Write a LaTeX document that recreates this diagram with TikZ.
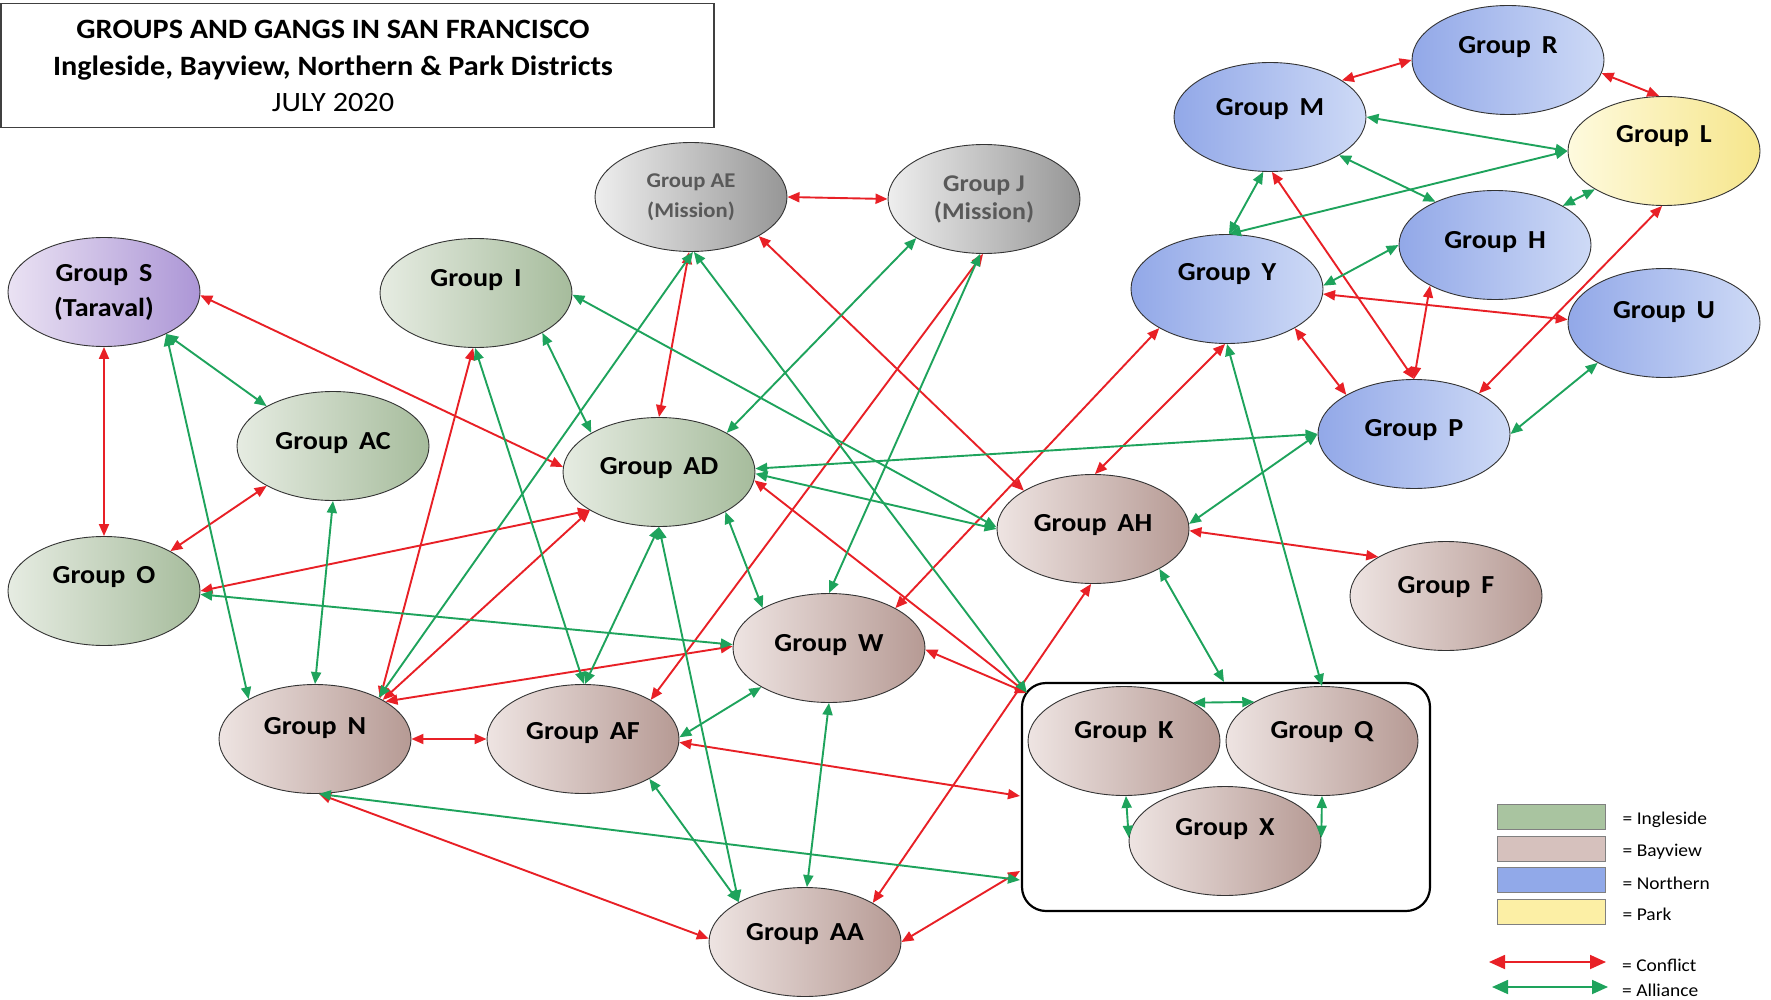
\documentclass[tikz,border=0pt]{standalone}
\usepackage{fontspec}
\setmainfont{Carlito}[FakeStretch=1.08]
\usetikzlibrary{shapes.geometric, arrows.meta, positioning}

\definecolor{conflictred}{RGB}{232,32,38}
\definecolor{alliancegreen}{RGB}{30,163,92}
\definecolor{ingL}{RGB}{230,236,226}
\definecolor{ingR}{RGB}{166,188,156}
\definecolor{bayL}{RGB}{238,228,226}
\definecolor{bayR}{RGB}{182,154,148}
\definecolor{norL}{RGB}{146,168,232}
\definecolor{norR}{RGB}{206,218,246}
\definecolor{parkL}{RGB}{254,250,222}
\definecolor{parkR}{RGB}{246,230,140}
\definecolor{tarL}{RGB}{234,226,243}
\definecolor{tarR}{RGB}{172,150,214}
\definecolor{misL}{RGB}{238,238,238}
\definecolor{misR}{RGB}{150,150,150}
\definecolor{legI}{RGB}{169,196,160}
\definecolor{legB}{RGB}{214,193,189}
\definecolor{legN}{RGB}{145,169,233}
\definecolor{legP}{RGB}{252,239,165}

\newcommand{\grpgap}{\hspace{0.42em}}

\begin{document}
\begin{tikzpicture}[x=1pt, y=-1pt, >={Triangle[length=12pt, width=10pt]}]
	\tikzstyle{gang}     = [ellipse, draw=black!80, line width=0.9pt, inner sep=0pt, minimum width=192pt, minimum height=109pt, font=\fontsize{26}{30}\selectfont\bfseries]
	\tikzstyle{oneline}  = [text height=12pt, text depth=12pt]
	\tikzstyle{grpI}     = [gang, oneline, left color=ingL, right color=ingR]
	\tikzstyle{grpB}     = [gang, oneline, left color=bayL, right color=bayR]
	\tikzstyle{grpN}     = [gang, oneline, left color=norL, right color=norR]
	\tikzstyle{grpP}     = [gang, oneline, left color=parkL, right color=parkR]
	\tikzstyle{grpT}     = [gang, align=center, font=\fontsize{26}{35}\selectfont\bfseries, left color=tarL, right color=tarR]
	\tikzstyle{grpM}     = [gang, align=center, text=black!65, left color=misL, right color=misR]
	\tikzstyle{conflict} = [<->, conflictred, line width=1.9pt]
	\tikzstyle{alliance} = [<->, alliancegreen, line width=1.9pt]
	\tikzstyle{ttl}      = [anchor=base, inner sep=0pt, font=\fontsize{28}{32}\selectfont\bfseries]
	\tikzstyle{legbox}   = [draw=black!50, line width=1pt, minimum width=108pt, minimum height=25pt, inner sep=0pt]
	\tikzstyle{legtxt}   = [anchor=west, inner sep=0pt, yshift=-3pt, font=\fontsize{18}{20}\selectfont]
	\tikzstyle{legarrow} = [line width=1.8pt, {Triangle[length=16pt, width=14pt]}-{Triangle[length=16pt, width=14pt]}]

	\path[use as bounding box, fill=white] (0,0) rectangle (1771,1000);

	% title
	\node[draw=black!75, line width=1.3pt, minimum width=713pt, minimum height=124pt, inner sep=0pt] (titlebox) at (357.5,65.5) {};
	\node[ttl] (ttl1) at (333,39) {GROUPS AND GANGS IN SAN FRANCISCO};
	\node[ttl] (ttl2) at (333,76) {Ingleside, Bayview, Northern \& Park Districts};
	\node[ttl, font=\fontsize{28}{32}\selectfont] (ttl3) at (333,112) {JULY 2020};

	% box round K, Q, X
	\node[draw=black, line width=2.2pt, rounded corners=24pt, minimum width=408pt, minimum height=228pt] (kqx) at (1226,797) {};
	\coordinate (kqxNW) at (1027,693);
	\coordinate (kqxW1) at (1020,796);
	\coordinate (kqxW2) at (1020,871);
	\coordinate (kqxW3) at (1020,880);
	\coordinate (kqxN)  at (1224,682);

	% groups
	\node[grpT] (S) at (104,292) {Group\grpgap S\\(Taraval)};
	\node[grpM, font=\fontsize{21}{30}\selectfont\bfseries] (AE) at (691,197) {Group AE\\(Mission)};
	\node[grpM, font=\fontsize{24}{28}\selectfont\bfseries] (J) at (984,199) {Group J\\(Mission)};

	\foreach \nm/\x/\y/\styl/\ty in {AC/333/446/I/-3, O/104/591/I/8, I/476/293/I/6, AD/659/472/I/-2,
		N/315/739/B/5, AF/583/739/B/0, W/829/648/B/-3, AA/805/942/B/2, AH/1093/529/B/-2, F/1446/596/B/3,
		K/1124/741/B/3, Q/1322/741/B/3, X/1225/841/B/6,
		Y/1227/289/N/9, M/1270/117/N/1, R/1508/60/N/6, H/1495/245/N/-4, U/1664/323/N/5, P/1414/434/N/-2, L/1664/151/P/8}
		\node[grp\styl] (\nm) at (\x,\y) {\raisebox{\ty pt}{Group\grpgap\nm}};

	% conflicts
	\foreach \from/\to in {S.south/O.north, O.31/AC.211, S.-2/AD.177, O.0/AD.209, N.32/I.267,
		N.30/AD.209, N.28/W.179, N.east/AF.west, N.274/AA.178, AE.-92/AD.north, AE.east/J.west,
		AE.-30/AH.151, J.-91/AF.30, AD.-5/kqxNW, W.-1/kqxNW, AF.-2/kqxW1, AA.0/kqxW2, AA.30/AH.268,
		W.31/Y.210, AH.88/Y.-92, AH.-1/F.150, Y.-30/P.150, Y.-3/U.178, M.-88/P.north,
		H.-148/P.north, L.-92/P.32, M.27/R.west, R.-8/L.95}
		\draw[conflict] (\from) -- (\to);

	% alliances
	\foreach \from/\to in {S.-34/AC.149, S.-34/N.149, AC.south/N.north, O.-2/W.178, I.-31/AD.150,
		I.-91/AF.89, I.-1/AH.179, AE.-88/N.33, AE.-87/kqxNW, J.210/AD.30, J.-94/W.90,
		AD.south/AF.88, AD.south/AA.149, AD.-31/W.149, AD.2/P.west, AD.-1/AH.west, AF.1/W.210,
		AF.-31/AA.149, W.south/AA.88, N.-86/kqxW3, AH.3/P.west, AH.-31/kqxN, Y.south/Q.north,
		K.29/Q.150, K.-88/X.178, Q.south/X.2, Y.88/M.-97, Y.88/L.west, Y.2/H.west, M.east/L.west,
		M.-29/H.144, H.30/L.209, P.east/U.211}
		\draw[alliance] (\from) -- (\to);

	% legend
	\node[legbox, fill=legI] (legI) at (1551,817) {};
	\node[legbox, fill=legB, below=5.5pt of legI] (legB) {};
	\node[legbox, fill=legN, below=5.5pt of legB] (legN) {};
	\node[legbox, fill=legP, below=5.5pt of legN] (legP) {};
	\node[legtxt, right=17pt of legI] (legIt) {= Ingleside};
	\node[legtxt, right=17pt of legB] (legBt) {= Bayview};
	\node[legtxt, right=17pt of legN] (legNt) {= Northern};
	\node[legtxt, right=17pt of legP] (legPt) {= Park};

	\coordinate (cfA) at (1489,962);
	\coordinate (cfB) at (1606,962);
	\coordinate (alA) at (1492,987);
	\coordinate (alB) at (1608,987);
	\draw[conflictred, legarrow] (cfA) -- (cfB);
	\draw[alliancegreen, legarrow] (alA) -- (alB);
	\node[legtxt, right=16pt of cfB] (cfT) {= Conflict};
	\node[legtxt, right=14pt of alB] (alT) {= Alliance};

\end{tikzpicture}
\end{document}
